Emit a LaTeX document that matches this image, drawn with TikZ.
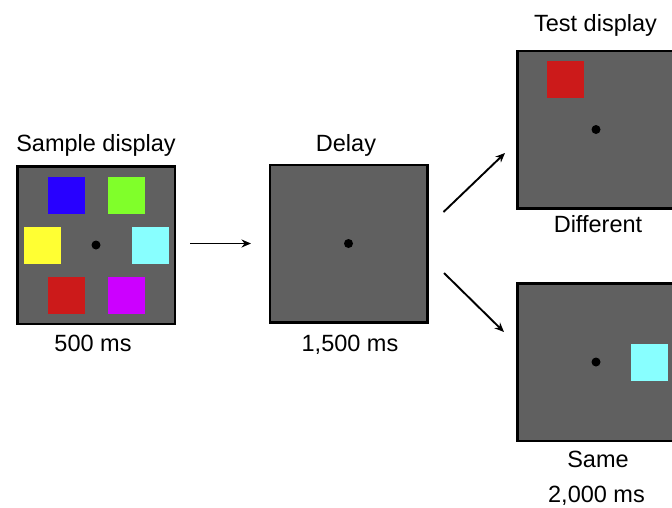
\documentclass[tikz,border=0pt]{standalone}
\usepackage{fontspec}
\setmainfont{Liberation Sans}
\usetikzlibrary{arrows.meta,positioning,calc}

\definecolor{screen}{RGB}{96,96,96}
\definecolor{pblue}{RGB}{40,0,255}
\definecolor{pgreen}{RGB}{128,255,42}
\definecolor{pyellow}{RGB}{255,255,51}
\definecolor{pcyan}{RGB}{136,255,255}
\definecolor{pred}{RGB}{204,26,26}
\definecolor{ppurple}{RGB}{204,0,255}

\begin{document}
\begin{tikzpicture}[x=1pt,y=-1pt,
  every node/.style={font=\fontsize{23.5}{28}\selectfont},
  display/.style={draw=black, line width=2.5pt, fill=screen, minimum size=157.5pt, inner sep=0pt},
  patch/.style={fill=#1, minimum size=37pt, inner sep=0pt},
  fixdot/.style={circle, fill=black, minimum size=9pt, inner sep=0pt},
  arr/.style={-{Stealth[length=9.5pt,width=8pt]}, line width=1.9pt}]
  \useasboundingbox (0,0) rectangle (672,507);

  % Displays
  \node[display] (sample) at (96,245) {};
  \node[display] (delay) at (348.5,243.5) {};
  \node[display] (testdiff) at (596,129.5) {};
  \node[display] (testsame) at (596,362) {};

  % Fixation points
  \foreach \d in {sample,delay,testdiff,testsame}
    \node[fixdot] (dot\d) at (\d) {};

  % Coloured squares
  \foreach \c/\dx/\dy in {pblue/-30/-50, pgreen/30/-50, pyellow/-54/0,
                          pcyan/54/0, pred/-30/50, ppurple/30/50}
    \node[patch=\c] (\c sq) at ($(sample)+(\dx,\dy)$) {};
  \node[patch=pred] (diffsq) at ($(testdiff)+(-31,-50.5)$) {};
  \node[patch=pcyan] (samesq) at ($(testsame)+(53,0)$) {};

  % Labels
  \node[anchor=base] (samplelabel) at (96,151) {Sample display};
  \node[anchor=base] (sampletime) at (93,351.5) {500 ms};
  \node[anchor=base] (delaylabel) at (346,151) {Delay};
  \node[anchor=base] (delaytime) at (350,351) {1,500 ms};
  \node[anchor=base] (testlabel) at (595.5,31.5) {Test display};
  \node[anchor=base] (difflabel) at (598,232) {Different};
  \node[anchor=base] (samelabel) at (598,467.5) {Same};
  \node[anchor=base] (testtime) at (596.5,502.5) {2,000 ms};

  % Arrows
  \coordinate (forkup) at (443.5,212);
  \coordinate (diffin) at (505,153);
  \coordinate (forkdown) at (444,273);
  \coordinate (samein) at (504,332);
  \draw[arr, shorten <=14pt, shorten >=17.5pt] (sample.east |- delay) -- (delay.west);
  \draw[arr] (forkup) -- (diffin);
  \draw[arr] (forkdown) -- (samein);
\end{tikzpicture}
\end{document}
